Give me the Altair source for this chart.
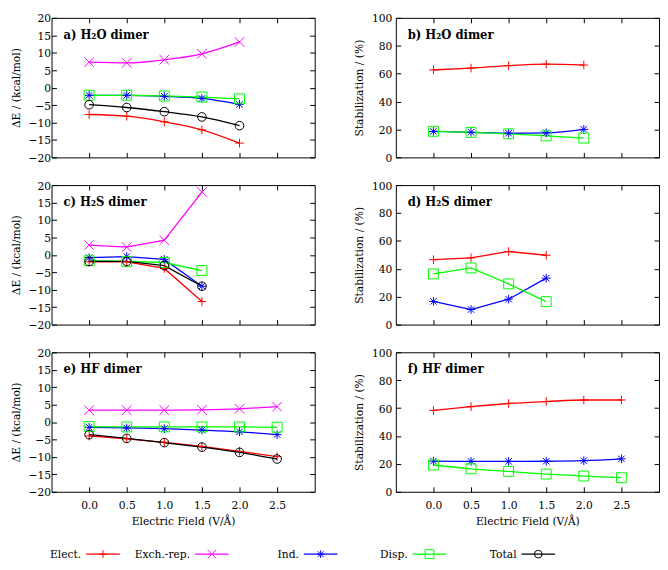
import altair as alt
import pandas as pd

series = ["Elect.", "Exch.-rep.", "Ind.", "Disp.", "Total"]
colors = ["#ff0000", "#ff00ff", "#0000ff", "#00ff00", "#000000"]
shapes = [
    "M-1,0L1,0M0,-1L0,1",
    "M-1.1,-1.1L1.1,1.1M-1.1,1.1L1.1,-1.1",
    "M-1,0L1,0M0,-1L0,1M-0.75,-0.75L0.75,0.75M-0.75,0.75L0.75,-0.75",
    "M-1.15,-1.15L1.15,-1.15L1.15,1.15L-1.15,1.15Z",
    "circle",
]

field_a = [0.0, 0.5, 1.0, 1.5, 2.0]
elect_a = [-7.7, -8.2, -9.8, -12.1, -15.9]
exch_a = [7.3, 7.1, 8.0, 9.7, 13.1]
ind_a = [-2.2, -2.2, -2.5, -3.1, -4.8]
disp_a = [-2.2, -2.2, -2.4, -2.7, -3.2]
total_a = [-4.9, -5.7, -6.9, -8.4, -10.9]

elect_b = [62.7, 64.0, 65.8, 66.8, 66.2]
ind_b = [18.6, 18.0, 17.3, 17.6, 20.1]
disp_b = [18.7, 17.9, 16.9, 15.4, 13.8]

field_c = [0.0, 0.5, 1.0, 1.5]
elect_c = [-2.0, -2.0, -3.9, -13.4]
exch_c = [2.8, 2.2, 4.2, 18.0]
ind_c = [-0.8, -0.5, -1.3, -9.0]
disp_c = [-1.7, -1.9, -2.2, -4.5]
total_c = [-1.9, -1.9, -3.1, -9.0]

elect_d = [46.5, 47.8, 52.4, 49.7]
ind_d = [16.6, 10.8, 18.2, 33.3]
disp_d = [36.3, 40.6, 29.2, 16.5]

field_e = [0.0, 0.5, 1.0, 1.5, 2.0, 2.5]
elect_e = [-4.0, -4.8, -5.8, -7.0, -8.4, -9.9]
exch_e = [3.4, 3.4, 3.4, 3.5, 3.8, 4.4]
ind_e = [-1.5, -1.7, -1.9, -2.3, -2.8, -3.6]
disp_e = [-1.3, -1.4, -1.4, -1.4, -1.4, -1.5]
total_e = [-3.6, -4.7, -5.9, -7.2, -8.7, -10.6]

elect_f = [58.3, 61.0, 63.3, 64.7, 65.8, 65.8]
ind_f = [22.0, 21.8, 21.8, 21.9, 22.3, 23.6]
disp_f = [19.2, 16.5, 14.6, 12.7, 11.3, 10.1]

x_ticks = [0.0, 0.5, 1.0, 1.5, 2.0, 2.5]
e_ticks = [-20, -15, -10, -5, 0, 5, 10, 15, 20]
p_ticks = [0, 20, 40, 60, 80, 100]

FONT = "DejaVu Serif Condensed, DejaVu Serif"
FS = 12
W, H = 266, 141


def make_df(xs, data):
    rows = []
    for name, vals in data:
        for x, v in zip(xs, vals):
            rows.append({"field": x, "value": v, "series": name})
    return pd.DataFrame(rows)


def panel(df, label, ydomain, yticks, ytitle, bottom, interp, ypad):
    xscale = alt.Scale(domain=[-0.5, 3.0], nice=False, zero=False)
    yscale = alt.Scale(domain=ydomain, nice=False, zero=False)
    color = alt.Color("series:N", scale=alt.Scale(domain=series, range=colors), legend=None)
    xa_bottom = alt.Axis(orient="bottom", values=x_ticks, labels=bottom, format=".1f",
                         title="Electric Field (V/Å)" if bottom else "")
    xa_top = alt.Axis(orient="top", values=x_ticks, labels=False, title="")
    ya_left = alt.Axis(orient="left", values=yticks, title=ytitle, labelPadding=ypad)
    ya_right = alt.Axis(orient="right", values=yticks, labels=False, title="")
    base = alt.Chart(df)
    lines = base.mark_line(strokeWidth=1.3, interpolate=interp).encode(
        x=alt.X("field:Q", scale=xscale, axis=xa_bottom),
        y=alt.Y("value:Q", scale=yscale, axis=ya_left),
        color=color,
    )
    pts = base.mark_point(filled=False, size=76, strokeWidth=1, opacity=1).encode(
        x=alt.X("field:Q", scale=xscale, axis=xa_top),
        y=alt.Y("value:Q", scale=yscale, axis=ya_right),
        color=color,
        shape=alt.Shape("series:N", scale=alt.Scale(domain=series, range=shapes), legend=None),
    )
    txt = alt.Chart(pd.DataFrame({"t": [label]})).mark_text(
        align="left", baseline="middle", font=FONT, fontWeight="bold", fontSize=13, color="black"
    ).encode(x=alt.value(12), y=alt.value(17), text="t:N")
    return alt.layer(lines, pts, txt).properties(width=W, height=H)


df_a = make_df(field_a, [("Elect.", elect_a), ("Exch.-rep.", exch_a), ("Ind.", ind_a),
                         ("Disp.", disp_a), ("Total", total_a)])
df_b = make_df(field_a, [("Elect.", elect_b), ("Ind.", ind_b), ("Disp.", disp_b)])
df_c = make_df(field_c, [("Elect.", elect_c), ("Exch.-rep.", exch_c), ("Ind.", ind_c),
                         ("Disp.", disp_c), ("Total", total_c)])
df_d = make_df(field_c, [("Elect.", elect_d), ("Ind.", ind_d), ("Disp.", disp_d)])
df_e = make_df(field_e, [("Elect.", elect_e), ("Exch.-rep.", exch_e), ("Ind.", ind_e),
                         ("Disp.", disp_e), ("Total", total_e)])
df_f = make_df(field_e, [("Elect.", elect_f), ("Ind.", ind_f), ("Disp.", disp_f)])

ET = "ΔE / (kcal/mol)"
PT = "Stabilization / (%)"
pa = panel(df_a, "a) H₂O dimer", [-20, 20], e_ticks, ET, False, "monotone", 1)
pb = panel(df_b, "b) H₂O dimer", [0, 100], p_ticks, PT, False, "monotone", 4)
pc = panel(df_c, "c) H₂S dimer", [-20, 20], e_ticks, ET, False, "linear", 1)
pd_ = panel(df_d, "d) H₂S dimer", [0, 100], p_ticks, PT, False, "linear", 4)
pe = panel(df_e, "e) HF dimer", [-20, 20], e_ticks, ET, True, "monotone", 1)
pf = panel(df_f, "f) HF dimer", [0, 100], p_ticks, PT, True, "monotone", 4)

leg_df = pd.DataFrame({"series": series, "idx": list(range(len(series)))})
LW = 560
legx = alt.X("idx:Q", scale=alt.Scale(domain=[-52 / 110, (LW - 52) / 110], nice=False, zero=False), axis=None)
lcolor = alt.Color("series:N", scale=alt.Scale(domain=series, range=colors), legend=None)
lrule = alt.Chart(leg_df).mark_rule(strokeWidth=1.3, xOffset=-17, x2Offset=17).encode(
    x=legx, x2="idx:Q", y=alt.value(12), color=lcolor)
lpts = alt.Chart(leg_df).mark_point(filled=False, size=60, strokeWidth=1, opacity=1).encode(
    x=legx, y=alt.value(12), color=lcolor,
    shape=alt.Shape("series:N", scale=alt.Scale(domain=series, range=shapes), legend=None))
ltxt = alt.Chart(leg_df).mark_text(align="right", baseline="middle", dx=-22, font=FONT,
                                   fontSize=FS, color="black").encode(
    x=legx, y=alt.value(12), text="series:N")
legend = alt.layer(lrule, lpts, ltxt).properties(
    width=LW, height=18, view=alt.ViewBackground(stroke="transparent"))

row1 = alt.hconcat(pa, pb, spacing=36)
row2 = alt.hconcat(pc, pd_, spacing=36)
row3 = alt.hconcat(pe, pf, spacing=36)

chart = alt.vconcat(row1, row2, row3, legend, spacing=14, padding=0).configure_view(
    stroke="black", strokeWidth=1
).configure_axis(
    domain=False, grid=False, offset=-5, tickSize=5, tickColor="black", tickWidth=1,
    labelFont=FONT, labelFontSize=FS, labelColor="black", labelPadding=4,
    labelOverlap=False, labelFlush=False, minExtent=0,
    titleFont=FONT, titleFontSize=FS, titleFontWeight="normal", titleColor="black",
    titlePadding=6,
).configure_axisX(labelPadding=8, titlePadding=5).configure_concat(spacing=14)

chart.save("out.html", embed_options={"renderer": "svg", "actions": False})
